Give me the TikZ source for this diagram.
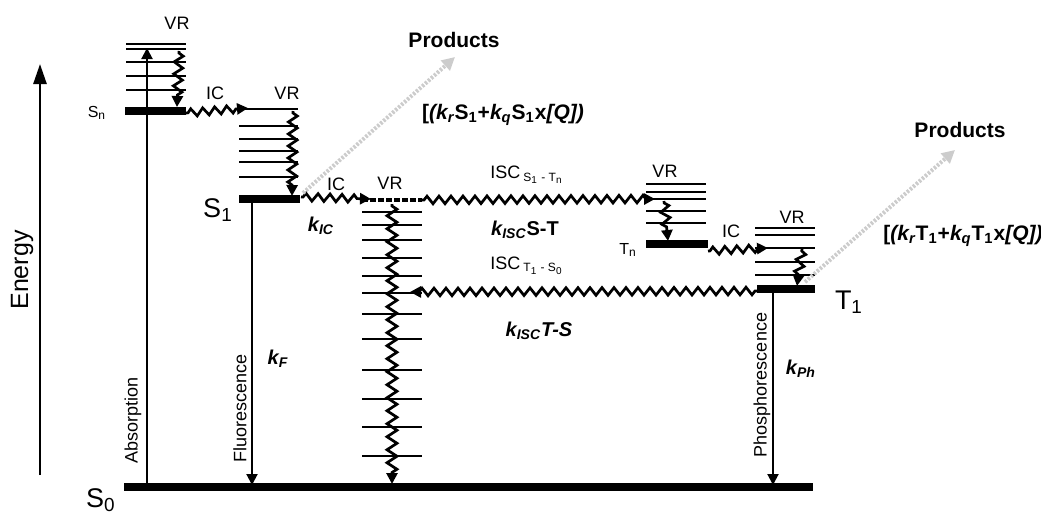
\documentclass[tikz,border=0pt]{standalone}
\usepackage{fontspec}
\setmainfont{Liberation Sans}
\usetikzlibrary{arrows.meta, decorations.pathmorphing}
\tikzset{
  vlevel/.style={line width=1.4pt},
  statebar/.style={line width=3.9pt},
  wavy/.style={
    decorate,
    decoration={zigzag, segment length=6pt, amplitude=1.9pt, pre length=1pt, post length=4.5pt},
    line width=1.35pt,
    -{Triangle[length=5.5pt,width=5.5pt]}
  },
  relax/.style={wavy, decoration={amplitude=2.2pt, segment length=6pt}},
  radiative/.style={line width=1pt, -{Triangle[length=5.5pt,width=5.5pt]}},
  prodarrow/.style={
    draw=gray!40,
    line width=2pt,
    dash pattern=on 1.2pt off 0.8pt,
    -{Triangle[length=6.5pt,width=6.5pt,fill=gray!40]}
  },
  lab/.style={font=\fontsize{9}{10}\selectfont, inner sep=0pt},
  smalllab/.style={font=\fontsize{8}{9}\selectfont, inner sep=0pt},
  statelab/.style={font=\fontsize{13.5}{15}\selectfont, inner sep=0pt},
  ratelab/.style={font=\fontsize{10}{12}\selectfont\bfseries, inner sep=0pt},
  prodlab/.style={font=\fontsize{10.5}{12}\selectfont\bfseries, inner sep=0pt},
  vlab/.style={lab, rotate=90}
}

\begin{document}
\begin{tikzpicture}[x=0.5pt, y=-0.5pt]
\useasboundingbox (0,0) rectangle (1041,515);

% energy axis
\coordinate (elow) at (40,475);
\coordinate (ehigh) at (40,64);
\draw[line width=1.3pt, -{Triangle[length=10pt,width=6.5pt]}] (elow) -- (ehigh);
\node[rotate=90, inner sep=0pt, font=\fontsize{12.5}{14}\selectfont] (energy) at (22,270) {Energy};

% ground state
\draw[statebar] (124,487) -- (813,487);
\node[statelab] (s0) at (101,500) {S\textsubscript{0}};

% Sn
\foreach \y in {44,49,62,76,90}
  \draw[vlevel] (126,\y) -- (186,\y);
\draw[statebar] (125,111) -- (186,111);
\node[smalllab] (sn) at (97,113) {S\textsubscript{n}};
\node[lab] (vrsn) at (177,23) {VR};

% S1
\foreach \y in {109,126,139,151,162,177}
  \draw[vlevel] (239,\y) -- (298,\y);
\draw[statebar] (239,199) -- (300,199);
\node[statelab] (s1) at (218,210) {S\textsubscript{1}};
\node[lab] (vrs1) at (287,93) {VR};

% vibrational ladder above S0
\draw[line width=1.7pt, dash pattern=on 3pt off 1pt] (362,200) -- (422,200);
\foreach \y in {212,225,240,258,276,293,314,339,370,399,427,456}
  \draw[vlevel] (362,\y) -- (422,\y);
\node[lab] (vrs0) at (390,183) {VR};

% Tn
\foreach \y in {184,192,199,211,223}
  \draw[vlevel] (646,\y) -- (706,\y);
\draw[statebar] (646,244) -- (708,244);
\node[smalllab] (tn) at (628,250) {T\textsubscript{n}};
\node[lab] (vrtn) at (665,171) {VR};

% T1
\foreach \y in {228,235,248,262,275}
  \draw[vlevel] (755,\y) -- (815,\y);
\draw[statebar] (757,289) -- (815,289);
\node[statelab] (t1) at (849,302) {T\textsubscript{1}};
\node[lab] (vrt1) at (792,217) {VR};

% end points of the transitions
\coordinate (absB) at (147,485);
\coordinate (absT) at (147,48);
\coordinate (fluT) at (252,201);
\coordinate (fluB) at (252,485);
\coordinate (phoT) at (773,291);
\coordinate (phoB) at (773,485);
\coordinate (snR) at (186,113);
\coordinate (s1in) at (248,108);
\coordinate (s1R) at (301,197);
\coordinate (s0in) at (371,199);
\coordinate (s0R) at (422,200);
\coordinate (tnin) at (655,199);
\coordinate (tnR) at (708,251);
\coordinate (t1in) at (768,248);
\coordinate (t1L) at (757,291);
\coordinate (s0isc) at (410,292);

% radiative transitions
\draw[radiative] (absB) -- (absT);
\draw[radiative] (fluT) -- (fluB);
\draw[radiative] (phoT) -- (phoB);
\node[vlab] (abs) at (133,420) {Absorption};
\node[vlab] (flu) at (240,408) {Fluorescence};
\node[vlab] (pho) at (762,385) {Phosphorescence};

% vibrational relaxation
\draw[relax] (179,51) -- (177,107);
\draw[relax] (293,111) -- (292,196);
\draw[relax, decoration={amplitude=2.5pt, segment length=6.5pt}] (392,204) -- (392,484);
\draw[relax] (664,201) -- (668,241);
\draw[relax] (802,249) -- (797,286);

% internal conversion and intersystem crossing
\draw[wavy] (snR) -- (s1in);
\draw[wavy] (s1R) -- (s0in);
\draw[wavy] (s0R) -- (tnin);
\draw[wavy] (tnR) -- (t1in);
\draw[wavy] (t1L) -- (s0isc);
\node[lab] (ic1) at (215,93) {IC};
\node[lab] (ic2) at (336,184) {IC};
\node[lab] (ic3) at (731,231) {IC};
\node[lab] (isc1) at (527,175) {ISC\,\textsubscript{S\textsubscript{1} - T\textsubscript{n}}};
\node[lab] (isc2) at (527,266) {ISC\,\textsubscript{T\textsubscript{1} - S\textsubscript{0}}};

% rate constants
\node[ratelab] (kf) at (278,359) {\textit{k\textsubscript{F}}};
\node[ratelab] (kic) at (321,226) {\textit{k\textsubscript{IC}}};
\node[ratelab] (kst) at (525,230) {\textit{k\textsubscript{ISC}}S-T};
\node[ratelab] (kts) at (539,331) {\textit{k\textsubscript{ISC}T-S}};
\node[ratelab] (kph) at (801,369) {\textit{k\textsubscript{Ph}}};

% reactions to products
\node[prodlab] (prod1) at (454,40) {Products};
\node[prodlab] (prod2) at (960,130) {Products};
\node[prodlab] (rate1) at (503,115)
  {[\textit{(k\textsubscript{r}}S\textsubscript{1}+\textit{k\textsubscript{q}}S\textsubscript{1}x\textit{[Q])}};
\node[prodlab] (rate2) at (963,236)
  {[\textit{(k\textsubscript{r}}T\textsubscript{1}+\textit{k\textsubscript{q}}T\textsubscript{1}x\textit{[Q])}};
\coordinate (s1prod) at (303,193);
\coordinate (t1prod) at (805,282);
\coordinate (prod1tip) at (455,57);
\coordinate (prod2tip) at (955,150);
\draw[prodarrow] (s1prod) -- (prod1tip);
\draw[prodarrow] (t1prod) -- (prod2tip);

\end{tikzpicture}
\end{document}
